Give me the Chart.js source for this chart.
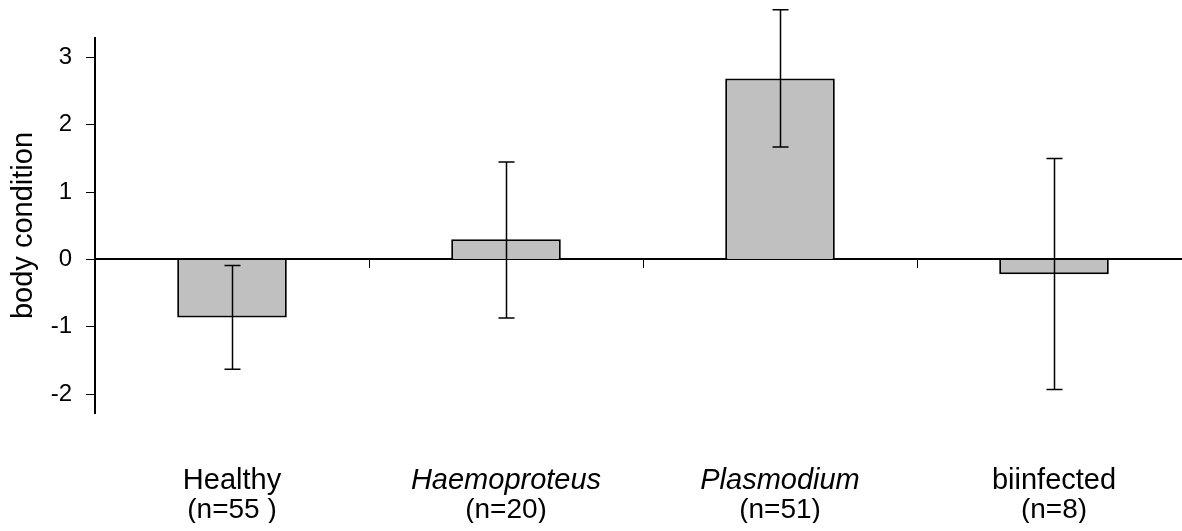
<!DOCTYPE html>
<html>
<head>
<meta charset="utf-8">
<script src="https://cdn.jsdelivr.net/npm/chart.js@4"></script>
<style>
  html, body { margin: 0; padding: 0; background: #fff; overflow: hidden; }
  #wrap { width: 1200px; height: 531px; }
</style>
</head>
<body>
<div id="wrap"><canvas id="bodyChart"></canvas></div>
<script>
const groups = ['Healthy', 'Haemoproteus', 'Plasmodium', 'biinfected'];
const sampleSizes = ['(n=55 )', '(n=20)', '(n=51)', '(n=8)'];
const italicName = [false, true, true, false];
const means = [-0.86, 0.30, 2.69, -0.22];
const errLow = [-1.63, -0.87, 1.67, -1.93];
const errHigh = [-0.09, 1.45, 3.71, 1.50];
const yTicks = [-2, -1, 0, 1, 2, 3];

const FONT = "'Liberation Sans', Arial, sans-serif";

// whiskers drawn from the arrays above through the chart scales
const errorBars = {
  id: 'errorBars',
  afterDatasetsDraw(chart) {
    const {ctx, scales: {x, y}} = chart;
    ctx.save();
    ctx.strokeStyle = '#000';
    ctx.lineWidth = 1.5;
    errLow.forEach((lo, i) => {
      const px = Math.round(x.getPixelForValue(i)) + 0.5;
      const top = y.getPixelForValue(errHigh[i]);
      const bot = y.getPixelForValue(lo);
      ctx.beginPath();
      ctx.moveTo(px, top); ctx.lineTo(px, bot);
      ctx.moveTo(px - 8, top); ctx.lineTo(px + 8, top);
      ctx.moveTo(px - 8, bot); ctx.lineTo(px + 8, bot);
      ctx.stroke();
    });
    ctx.restore();
  }
};

new Chart(document.getElementById('bodyChart'), {
  type: 'bar',
  data: {
    labels: groups,
    datasets: [{
      data: means,
      backgroundColor: '#c0c0c0',
      borderColor: '#000',
      borderWidth: 2,
      categoryPercentage: 1,
      barPercentage: 0.4
    }]
  },
  options: {
    responsive: true,
    maintainAspectRatio: false,
    animation: false,
    layout: {padding: {left: 5, right: 9, top: 38, bottom: 8}},
    plugins: {legend: {display: false}, tooltip: {enabled: false}},
    scales: {
      // group names
      x: {
        position: 'bottom',
        offset: true,
        grid: {display: false, drawTicks: false},
        border: {display: false},
        afterFit: (s) => { s.height = 83; },
        ticks: {
          color: '#000',
          padding: 53,
          maxRotation: 0,
          autoSkip: false,
          font: (c) => ({family: FONT, size: 29, lineHeight: 1.0, style: italicName[c.index] ? 'italic' : 'normal'})
        }
      },
      // sample sizes, second line
      xn: {
        type: 'category',
        labels: sampleSizes,
        position: 'bottom',
        offset: true,
        grid: {display: false, drawTicks: false},
        border: {display: false},
        afterFit: (s) => { s.height = 27; },
        ticks: {color: '#000', padding: 0, maxRotation: 0, autoSkip: false, font: {family: FONT, size: 28, lineHeight: 1.0}}
      },
      // axis line through zero with ticks between groups
      x0: {
        type: 'category',
        labels: groups,
        position: {y: 0},
        offset: true,
        grid: {offset: true, drawOnChartArea: false, tickLength: 8, color: '#000', lineWidth: 1},
        border: {color: '#000', width: 2},
        ticks: {display: false}
      },
      y: {
        min: -2.28,
        max: 3.29,
        afterBuildTicks: (scale) => { scale.ticks = yTicks.map(v => ({value: v})); },
        afterFit: (s) => { s.width = 90; },
        grid: {drawOnChartArea: false, tickLength: 9, color: '#000', lineWidth: 1},
        border: {color: '#000', width: 2},
        ticks: {color: '#000', padding: 14, font: {family: FONT, size: 24}},
        title: {
          display: true,
          text: 'body condition',
          color: '#000',
          padding: {top: 2, bottom: 9},
          font: {family: FONT, size: 29}
        }
      }
    }
  },
  plugins: [errorBars]
});
</script>
</body>
</html>
